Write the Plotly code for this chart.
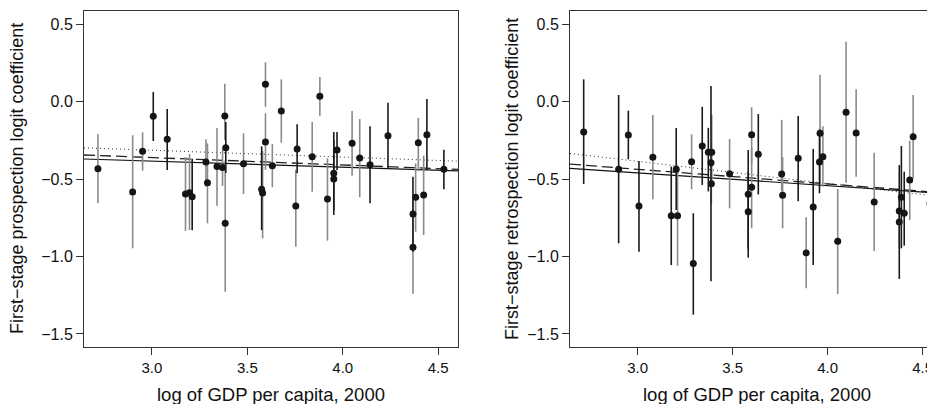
import plotly.graph_objects as go
from plotly.subplots import make_subplots

# ---------------- Left panel: prospection ----------------
pro_x = [2.717, 2.899, 2.951, 3.007, 3.080, 3.176, 3.197, 3.211, 3.283, 3.291,
         3.341, 3.370, 3.382, 3.387, 3.384, 3.480, 3.575, 3.580, 3.595, 3.595,
         3.631, 3.678, 3.761, 3.754, 3.840, 3.880, 3.920, 3.953, 3.953, 3.970,
         4.049, 4.089, 4.143, 4.237, 4.368, 4.368, 4.382, 4.396, 4.424, 4.441,
         4.530]
pro_y = [-0.434, -0.584, -0.321, -0.095, -0.244, -0.597, -0.588, -0.614, -0.390, -0.524,
         -0.420, -0.425, -0.094, -0.298, -0.786, -0.401, -0.566, -0.590, 0.111, -0.261,
         -0.414, -0.061, -0.306, -0.674, -0.356, 0.034, -0.629, -0.463, -0.500, -0.313,
         -0.270, -0.365, -0.408, -0.221, -0.726, -0.940, -0.618, -0.266, -0.603, -0.214,
         -0.437]
pro_lo = [-0.657, -0.947, -0.446, -0.255, -0.442, -0.835, -0.829, -0.830, -0.550, -0.786,
          -0.672, -0.545, -0.248, -0.461, -1.227, -0.597, -0.830, -0.883, -0.034, -0.440,
          -0.553, -0.266, -0.463, -0.937, -0.582, -0.092, -0.898, -0.732, -0.700, -0.442,
          -0.479, -0.618, -0.657, -0.431, -0.970, -1.240, -0.840, -0.450, -0.861, -0.442,
          -0.566]
pro_hi = [-0.210, -0.218, -0.199, 0.061, -0.048, -0.358, -0.339, -0.370, -0.243, -0.270,
          -0.171, -0.308, 0.115, -0.132, -0.380, -0.205, -0.290, -0.320, 0.253, -0.076,
          -0.274, 0.143, -0.147, -0.440, -0.132, 0.158, -0.366, -0.197, -0.250, -0.197,
          -0.061, -0.113, -0.160, -0.008, -0.485, -0.640, -0.400, -0.105, -0.350, 0.016,
          -0.311]
pro_grp = ["G", "G", "G", "B", "B", "G", "G", "B", "G", "G",
           "G", "G", "G", "B", "G", "G", "B", "G", "G", "G",
           "G", "G", "B", "G", "G", "G", "G", "B", "B", "B",
           "G", "G", "B", "B", "B", "G", "G", "G", "G", "B",
           "B"]

# regression lines (values at the panel's x limits)
pro_fit_x = [2.644, 4.604]
pro_solid = [-0.371, -0.447]
pro_dash = [-0.345, -0.438]
pro_dot = [-0.299, -0.385]

# ---------------- Right panel: retrospection ----------------
ret_x = [2.716, 2.900, 2.951, 3.007, 3.080, 3.177, 3.203, 3.210, 3.284, 3.293,
         3.340, 3.372, 3.390, 3.386, 3.388, 3.484, 3.582, 3.582, 3.600, 3.600,
         3.635, 3.758, 3.763, 3.845, 3.887, 3.924, 3.960, 3.957, 3.975, 4.053,
         4.097, 4.150, 4.245, 4.377, 4.377, 4.388, 4.403, 4.432, 4.450, 4.539]
ret_y = [-0.197, -0.437, -0.216, -0.674, -0.360, -0.737, -0.437, -0.737, -0.388, -1.046,
         -0.287, -0.328, -0.328, -0.395, -0.530, -0.466, -0.599, -0.711, -0.214, -0.553,
         -0.341, -0.468, -0.605, -0.366, -0.977, -0.680, -0.205, -0.390, -0.356, -0.902,
         -0.070, -0.203, -0.648, -0.706, -0.777, -0.618, -0.721, -0.506, -0.227, -0.657]
ret_lo = [-0.532, -0.915, -0.373, -0.969, -0.631, -1.055, -0.700, -1.060, -0.566, -1.375,
          -0.539, -0.580, -0.530, -1.160, -0.660, -0.689, -1.008, -0.950, -0.400, -0.818,
          -0.600, -0.580, -0.818, -0.644, -1.205, -1.055, -0.530, -0.592, -0.550, -1.242,
          -0.524, -0.485, -0.965, -1.145, -0.950, -0.947, -0.930, -0.765, -0.495, -0.834]
ret_hi = [0.143, 0.042, -0.059, -0.384, -0.087, -0.420, -0.171, -0.430, -0.212, -0.721,
          -0.034, -0.170, -0.086, 0.100, -0.400, -0.242, -0.313, -0.450, -0.037, -0.300,
          -0.081, -0.119, -0.360, -0.094, -0.747, -0.306, 0.173, -0.180, -0.160, -0.565,
          0.386, 0.079, -0.330, -0.410, -0.600, -0.287, -0.453, -0.253, 0.042, -0.480]
ret_grp = ["B", "B", "B", "B", "G", "B", "B", "G", "G", "B",
           "B", "B", "G", "B", "G", "G", "B", "B", "G", "G",
           "B", "G", "G", "B", "G", "B", "G", "B", "G", "G",
           "G", "G", "G", "B", "G", "B", "B", "G", "G", "G"]

ret_fit_x = [2.644, 4.565]
ret_solid = [-0.431, -0.590]
ret_dash = [-0.404, -0.585]
ret_dot = [-0.335, -0.610]

x_ticks = [3.0, 3.5, 4.0, 4.5]
x_ticklabels = ["3.0", "3.5", "4.0", "4.5"]
y_ticks = [0.5, 0.0, -0.5, -1.0, -1.5]
y_ticklabels = ["0.5", "0.0", "\u22120.5", "\u22121.0", "\u22121.5"]
x_title = "log of GDP per capita, 2000"
y_title_left = "First\u2212stage prospection logit coefficient"
y_title_right = "First\u2212stage retrospection logit coefficient"

FONT = "Liberation Sans, Arial, Helvetica, sans-serif"
BAR_COL = {"B": "#1a1a1a", "G": "#8a8a8a"}

fig = make_subplots(rows=1, cols=2, horizontal_spacing=0.0)


def add_panel(col, xs, ys, los, his, grp, fx, fs, fd, ft):
    # regression lines
    fig.add_trace(go.Scatter(x=fx, y=ft, mode="lines",
                             line=dict(color="#333333", width=1, dash="1px,3px"),
                             showlegend=False, hoverinfo="skip"), row=1, col=col)
    fig.add_trace(go.Scatter(x=fx, y=fd, mode="lines",
                             line=dict(color="#222222", width=1.3, dash="11px,5px"),
                             showlegend=False, hoverinfo="skip"), row=1, col=col)
    fig.add_trace(go.Scatter(x=fx, y=fs, mode="lines",
                             line=dict(color="#111111", width=1.2),
                             showlegend=False, hoverinfo="skip"), row=1, col=col)
    for g in ["G", "B"]:
        idx = [i for i, v in enumerate(grp) if v == g]
        px = [xs[i] for i in idx]
        py = [ys[i] for i in idx]
        up = [his[i] - ys[i] for i in idx]
        dn = [ys[i] - los[i] for i in idx]
        fig.add_trace(go.Scatter(
            x=px, y=py, mode="markers",
            marker=dict(color="#151515", size=7),
            error_y=dict(type="data", symmetric=False, array=up, arrayminus=dn,
                         color=BAR_COL[g], thickness=1.6, width=0),
            showlegend=False), row=1, col=col)


add_panel(1, pro_x, pro_y, pro_lo, pro_hi, pro_grp,
          pro_fit_x, pro_solid, pro_dash, pro_dot)
add_panel(2, ret_x, ret_y, ret_lo, ret_hi, ret_grp,
          ret_fit_x, ret_solid, ret_dash, ret_dot)

# The page adds an 8px body margin, so figure coords = page coords - 8.
OFF = 8
W, H = 935 - OFF, 404 - OFF
L, R, T = 84 - OFF, 0, 11 - OFF
B = H - (347 - OFF)
PW = W - L - R
PH = H - T - B


def dom(a, b):
    return [(a - 84) / PW, (b - 84) / PW]


axis_common = dict(showgrid=False, zeroline=False, showline=True,
                   linecolor="#333333", linewidth=1, ticks="outside",
                   ticklen=7, tickwidth=1, tickcolor="#333333")
xfont = dict(family=FONT, size=15, color="#111111")
yfont = dict(family=FONT, size=16, color="#111111")

fig.update_layout(
    width=W, height=H,
    margin=dict(l=L, r=R, t=T, b=B, autoexpand=False),
    paper_bgcolor="white", plot_bgcolor="white",
    font=dict(family=FONT, size=15, color="#111111"),
    xaxis=dict(domain=dom(84, 458), range=[2.644, 4.604], tickvals=x_ticks,
               ticktext=x_ticklabels, mirror=True, tickfont=xfont, **axis_common),
    yaxis=dict(range=[-1.584, 0.584], tickvals=y_ticks, ticktext=y_ticklabels,
               mirror=True, tickfont=yfont, **axis_common),
    xaxis2=dict(domain=dom(570, 935), range=[2.644, 4.565], tickvals=x_ticks,
                ticktext=x_ticklabels, mirror=True, tickfont=xfont, **axis_common),
    yaxis2=dict(range=[-1.584, 0.584], tickvals=y_ticks, ticktext=y_ticklabels,
                mirror=False, tickfont=yfont, **axis_common),
)

yt_font = dict(family=FONT, size=18, color="#111111")
xt_font = dict(family=FONT, size=18.5, color="#111111")
fig.add_annotation(text=y_title_left, xref="paper", yref="paper",
                   x=(17 - 84) / PW, y=0.5, textangle=-90, showarrow=False,
                   font=yt_font, xanchor="center", yanchor="middle")
fig.add_annotation(text=y_title_right, xref="paper", yref="paper",
                   x=(512 - 84) / PW, y=0.5, textangle=-90, showarrow=False,
                   font=yt_font, xanchor="center", yanchor="middle")
fig.add_annotation(text=x_title, xref="paper", yref="paper",
                   x=(270.5 - 84) / PW, y=(347 - 394) / PH, showarrow=False,
                   font=xt_font, xanchor="center", yanchor="middle")
fig.add_annotation(text=x_title, xref="paper", yref="paper",
                   x=(756.5 - 84) / PW, y=(347 - 394) / PH, showarrow=False,
                   font=xt_font, xanchor="center", yanchor="middle")

fig.write_html("out.html")
